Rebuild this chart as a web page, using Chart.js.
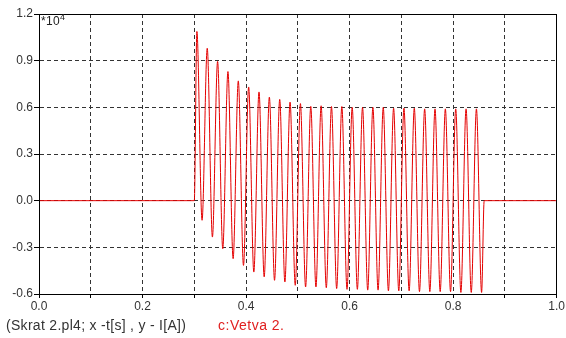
<!DOCTYPE html>
<html>
<head>
<meta charset="utf-8">
<script src="https://cdn.jsdelivr.net/npm/chart.js@4.4.0/dist/chart.umd.min.js"></script>
<style>
    html, body { margin: 0; padding: 0; background: #fff; }
    #wrap { position: relative; width: 566px; height: 338px; }
    #exp { position: absolute; left: 41px; top: 14px; font: 12px "Liberation Sans", Arial, sans-serif; color: #222; letter-spacing: 0.3px; }
    #exp sup { font-size: 9px; vertical-align: 5px; line-height: 0; }
    #caption { position: absolute; left: 6px; top: 317px; font: 14px "Liberation Sans", Arial, sans-serif; color: #333; white-space: nowrap; letter-spacing: 0.3px; }
    #series { position: absolute; left: 218px; top: 317px; font: 14px "Liberation Sans", Arial, sans-serif; color: #e02020; white-space: nowrap; letter-spacing: 0.5px; }
</style>
</head>
<body>
<div id="wrap">
    <canvas id="chart" width="566" height="338"></canvas>
    <div id="exp">*10<sup>4</sup></div>
    <div id="caption">(Skrat 2.pl4; x -t[s] , y - I[A])</div>
    <div id="series">c:Vetva 2.</div>
</div>
<script>
// Axis ticks
const xTicks = [0.0, 0.1, 0.2, 0.3, 0.4, 0.5, 0.6, 0.7, 0.8, 0.9, 1.0];
const xTickLabels = ['0.0', '', '0.2', '', '0.4', '', '0.6', '', '0.8', '', '1.0'];
const yTicks = [-0.6, -0.3, 0.0, 0.3, 0.6, 0.9, 1.2];
const yTickLabels = ['-0.6', '-0.3', '0.0', '0.3', '0.6', '0.9', '1.2'];

// Current in branch "Vetva 2." (x 10^4 A): positive peaks and negative troughs
const peakTimes = [0.305, 0.325, 0.345, 0.365, 0.385, 0.405, 0.425, 0.445, 0.465, 0.485,
                   0.505, 0.525, 0.545, 0.565, 0.585, 0.605, 0.625, 0.645, 0.665, 0.685,
                   0.705, 0.725, 0.745, 0.765, 0.785, 0.805, 0.825, 0.845];
const peakValues = [1.088, 0.98, 0.895, 0.83, 0.77, 0.731, 0.699, 0.666, 0.651, 0.634,
                    0.624, 0.606, 0.61, 0.605, 0.605, 0.60, 0.60, 0.60, 0.60, 0.595,
                    0.595, 0.595, 0.59, 0.59, 0.59, 0.59, 0.59, 0.59];
const troughTimes = [0.315, 0.335, 0.355, 0.375, 0.395, 0.415, 0.435, 0.455, 0.475, 0.495,
                     0.515, 0.535, 0.555, 0.575, 0.595, 0.615, 0.635, 0.655, 0.675, 0.695,
                     0.715, 0.735, 0.755, 0.775, 0.795, 0.815, 0.835, 0.855];
const troughValues = [-0.126, -0.234, -0.309, -0.373, -0.416, -0.459, -0.49, -0.512, -0.523, -0.544,
                      -0.555, -0.555, -0.56, -0.565, -0.57, -0.57, -0.575, -0.575, -0.58, -0.58,
                      -0.58, -0.585, -0.585, -0.585, -0.585, -0.59, -0.59, -0.59];
// Flat parts before the fault and after it is cleared
const faultStart = 0.300;
const faultEnd = 0.860;

const points = [{x: 0, y: 0}, {x: faultStart, y: 0}];
for (let i = 0; i < peakTimes.length; i++) {
    points.push({x: peakTimes[i], y: peakValues[i]});
    points.push({x: troughTimes[i], y: troughValues[i]});
}
points.push({x: faultEnd, y: 0});
points.push({x: 1.0, y: 0});

// solid frame around the plot area
const frame = {
    id: 'frame',
    afterDraw(chart) {
        const a = chart.chartArea;
        const ctx = chart.ctx;
        ctx.save();
        ctx.strokeStyle = '#000';
        ctx.lineWidth = 1;
        ctx.strokeRect(Math.round(a.left) + 0.5, Math.round(a.top) + 0.5,
                       Math.round(a.right - a.left) - 1, Math.round(a.bottom - a.top));
        ctx.restore();
    }
};

const font = { family: '"Liberation Sans", Arial, sans-serif', size: 12 };

new Chart(document.getElementById('chart'), {
    type: 'line',
    data: {
        datasets: [{
            data: points,
            borderColor: 'rgb(228, 0, 0)',
            borderWidth: 1,
            pointRadius: 0,
            cubicInterpolationMode: 'monotone',
            fill: false
        }]
    },
    options: {
        responsive: false,
        animation: false,
        layout: { padding: { left: 0, top: 14, right: 8, bottom: 0 } },
        plugins: { legend: { display: false }, tooltip: { enabled: false } },
        scales: {
            x: {
                type: 'linear',
                min: 0,
                max: 1.0,
                afterBuildTicks: scale => { scale.ticks = xTicks.map(v => ({ value: v })); },
                afterFit: scale => { scale.height = 44; },
                ticks: {
                    autoSkip: false,
                    maxRotation: 0,
                    padding: 1,
                    color: '#333',
                    font: font,
                    callback: (v, i) => xTickLabels[i]
                },
                grid: { color: '#333', lineWidth: 1, tickLength: 4, tickColor: '#000' },
                border: { color: '#000', width: 1, dash: [4, 3] }
            },
            y: {
                type: 'linear',
                min: -0.6,
                max: 1.2,
                afterBuildTicks: scale => { scale.ticks = yTicks.map(v => ({ value: v })); },
                afterFit: scale => { scale.width = 39; },
                ticks: {
                    autoSkip: false,
                    padding: 1,
                    color: '#333',
                    font: font,
                    callback: (v, i) => yTickLabels[i]
                },
                grid: { color: '#333', lineWidth: 1, tickLength: 5, tickColor: '#000' },
                border: { color: '#000', width: 1, dash: [4, 3] }
            }
        }
    },
    plugins: [frame]
});
</script>
</body>
</html>
